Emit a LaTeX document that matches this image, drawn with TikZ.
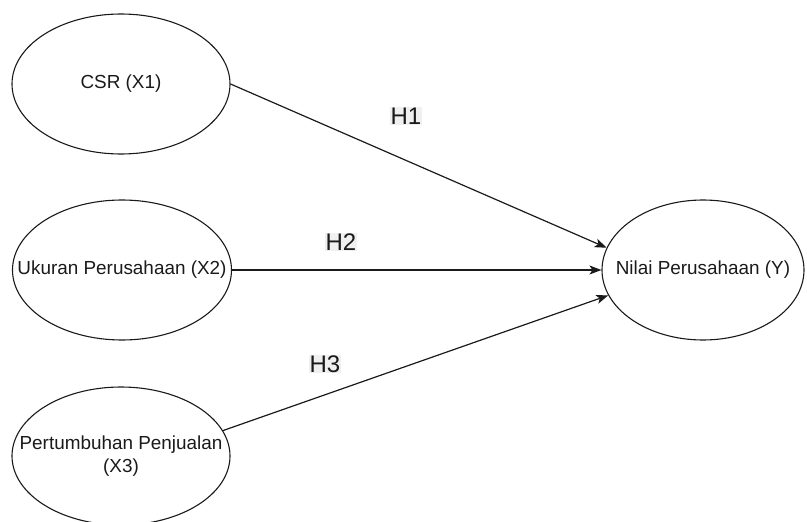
\documentclass[tikz,border=0pt]{standalone}
\usepackage{fontspec}
\setmainfont{Liberation Sans}
\usetikzlibrary{shapes.geometric,arrows.meta}
\definecolor{ink}{HTML}{1A1A1A}
\tikzset{
  varnode/.style={ellipse, draw=ink, line width=1.1pt, inner sep=0pt},
  vartext/.style={text=ink, font=\fontsize{18.9}{23}\selectfont, align=center, inner sep=0pt},
  conn/.style={draw=ink, line width=1.2pt, -{Stealth[length=12pt,width=9pt,inset=3pt]}},
  hlabel/.style={fill=black!6, text=ink, inner sep=1pt, font=\fontsize{24}{27}\selectfont}
}
\begin{document}
\begin{tikzpicture}[x=1pt,y=-1pt]
\useasboundingbox (0,0) rectangle (807,522);
\node[varnode, minimum width=218pt, minimum height=140pt,
  label={[vartext]center:CSR (X1)}] (csr) at (121,84) {};
\node[varnode, minimum width=219pt, minimum height=140pt,
  label={[vartext]center:Ukuran Perusahaan (X2)}] (uk) at (122,270) {};
\node[varnode, minimum width=218pt, minimum height=138pt,
  label={[vartext]center:Pertumbuhan Penjualan\\(X3)}] (pp) at (121,456) {};
\node[varnode, minimum width=202pt, minimum height=140pt,
  label={[vartext]center:Nilai Perusahaan (Y)}] (ny) at (703,270) {};
\draw[conn] (csr.east) -- (ny.167.6);
\draw[conn] (uk.east) -- (ny.west);
\draw[conn] (pp.14.8) -- (ny.195.1);
\node[hlabel] (h1) at (406,116) {H1};
\node[hlabel] (h2) at (341,242) {H2};
\node[hlabel] (h3) at (325,364) {H3};
\end{tikzpicture}
\end{document}
